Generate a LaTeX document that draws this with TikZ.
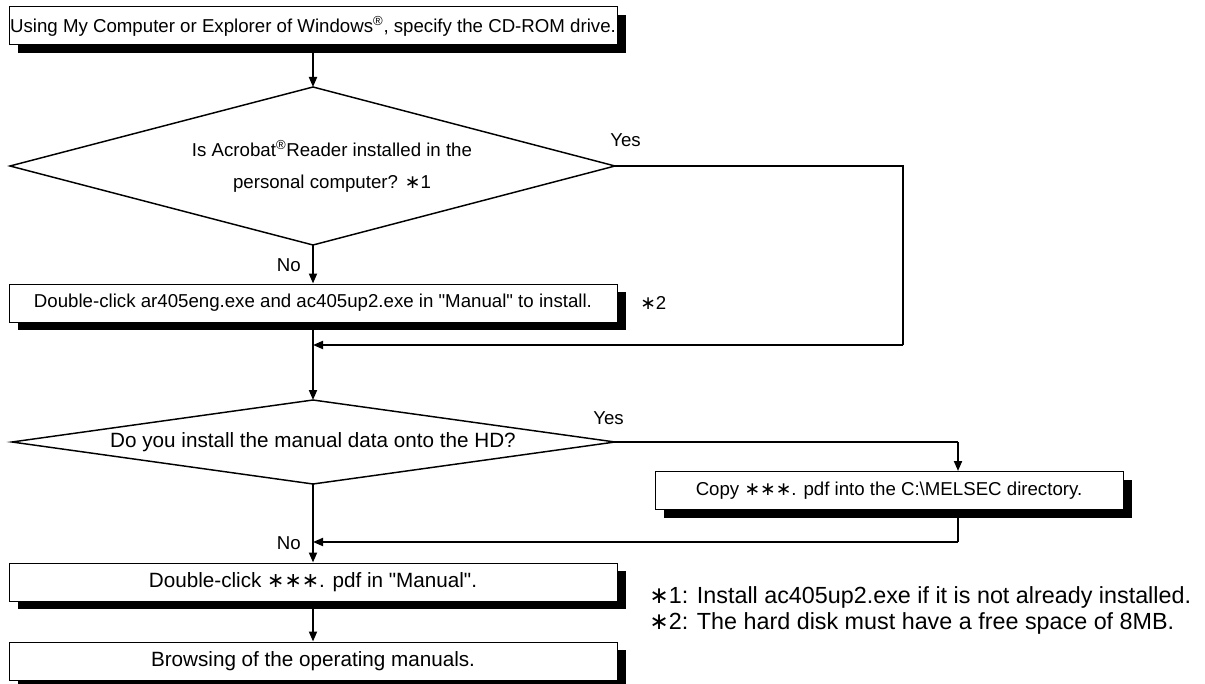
\documentclass[tikz,border=0pt]{standalone}
\usepackage{fontspec}
\setmainfont{Liberation Sans}[Ligatures=TeXOff]
\newfontfamily\dvfont{DejaVu Sans}
\usetikzlibrary{arrows.meta,shadows}
\newcommand\mystar{{\dvfont ∗}}
\newcommand\sq{\symbol{34}}
\tikzset{
  procbox/.style={draw=black, line width=0.75pt, fill=white, inner sep=0pt,
    minimum height=28.5pt, font=\fontsize{14}{17}\selectfont,
    drop shadow={opacity=1, fill=black, shadow xshift=6.75pt, shadow yshift=-6pt}},
  bigtext/.style={font=\fontsize{15.5}{18}\selectfont},
  diam/.style={draw=black, line width=1.1pt, line join=miter},
  conn/.style={draw=black, line width=1.4pt, -{Triangle[length=7.5pt,width=6pt]}},
  line/.style={draw=black, line width=1.4pt},
  lbl/.style={font=\fontsize{14}{17}\selectfont, inner sep=0pt},
  note/.style={font=\fontsize{17.5}{20}\selectfont, inner sep=0pt, anchor=west},
}
\begin{document}
\begin{tikzpicture}[x=0.75pt,y=-0.75pt]
\useasboundingbox (0,0) rectangle (1205,684);
% boxes
\node[procbox, minimum width=456pt] (b1) at (313,26) {Using My Computer or Explorer of Windows\textsuperscript{®}, specify the CD-ROM drive.};
\node[procbox, minimum width=456pt] (b2) at (313,303) {Double-click ar405eng.exe and ac405up2.exe in \sq Manual\sq\ to install.};
\node[procbox, minimum width=351pt] (b3) at (889,490.5) {Copy \mystar\mystar\mystar. pdf into the C:\textbackslash MELSEC directory.};
\node[procbox, bigtext, minimum width=456pt] (b4) at (313,582) {Double-click \mystar\mystar\mystar. pdf in \sq Manual\sq.};
\node[procbox, bigtext, minimum width=456pt] (b5) at (313,661) {Browsing of the operating manuals.};
% diamond 1
\coordinate (d1t) at (313,87);
\coordinate (d1l) at (10,166);
\coordinate (d1r) at (615,166);
\coordinate (d1b) at (313,245);
\draw[diam] (d1t) -- (d1r) -- (d1b) -- (d1l) -- cycle;
\node[lbl, align=center, font=\fontsize{14}{24}\selectfont] (d1txt) at (332,166) {Is Acrobat\textsuperscript{®}Reader installed in the\\personal computer? \mystar1};
% diamond 2
\coordinate (d2t) at (313,400);
\coordinate (d2l) at (12,442);
\coordinate (d2r) at (615,442);
\coordinate (d2b) at (313,484);
\draw[diam] (d2t) -- (d2r) -- (d2b) -- (d2l) -- cycle;
\node[lbl, bigtext] (d2txt) at (313,442) {Do you install the manual data onto the HD?};
% labels
\node[lbl, anchor=west] (yes1) at (610,140) {Yes};
\node[lbl, anchor=east] (no1) at (301,265) {No};
\node[lbl, anchor=west] (yes2) at (593,418) {Yes};
\node[lbl, anchor=east] (no2) at (301,543) {No};
\node[lbl, anchor=west] (n2) at (640,303) {\mystar2};
\node[note] (f1) at (649,597) {\mystar1: Install ac405up2.exe if it is not already installed.};
\node[note] (f2) at (649,623) {\mystar2: The hard disk must have a free space of 8MB.};
% route coordinates
\coordinate (r1a) at (903,166);
\coordinate (r1b) at (903,345);
\coordinate (m1) at (313,345);
\coordinate (r2a) at (958,442);
\coordinate (r2t) at (958,471);
\coordinate (r3a) at (958,542);
\coordinate (m2) at (313,542);
% connectors
\draw[conn] (b1.south) -- (d1t);
\draw[conn] (d1b) -- (b2.north);
\draw[line] (d1r) -- (r1a) -- (r1b);
\draw[conn] (r1b) -- (m1);
\draw[conn] (b2.south) -- (d2t);
\draw[line] (d2r) -- (r2a);
\draw[conn] (r2a) -- (r2t);
\draw[line] (b3.south -| r3a) -- (r3a);
\draw[conn] (r3a) -- (m2);
\draw[conn] (d2b) -- (b4.north);
\draw[conn] (b4.south) -- (b5.north);
\end{tikzpicture}
\end{document}
